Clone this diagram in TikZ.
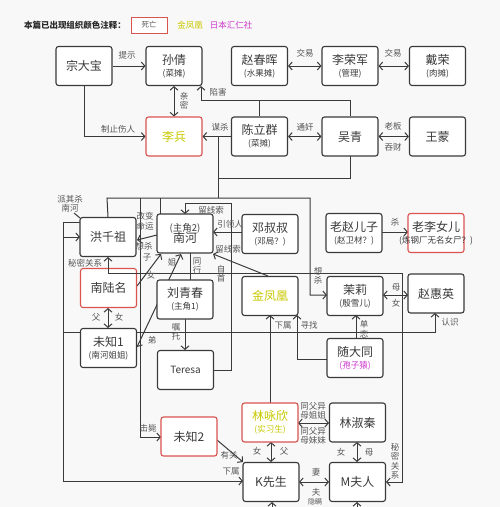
\documentclass[tikz,border=0pt]{standalone}
\usepackage{fontspec}
\setmainfont{Noto Sans CJK SC}
\usetikzlibrary{arrows.meta,calc}
\definecolor{bg}{HTML}{F8F8F8}
\definecolor{ln}{HTML}{3A3A3A}
\definecolor{dead}{HTML}{D9534F}
\definecolor{gold}{HTML}{C8C800}
\definecolor{mag}{HTML}{CC33CC}
\definecolor{lbl}{HTML}{555555}
\newcommand{\subt}[1]{\\[-1pt]{\fontsize{8.5}{9}\selectfont #1}}
\begin{document}
\begin{tikzpicture}[x=1pt,y=-1pt,
 box/.style={draw=ln, fill=white, rounded corners=2.5pt, line width=1.1pt, minimum width=56pt, minimum height=39pt, inner sep=0pt, align=center, font=\fontsize{12}{13}\selectfont, text=ln},
 deadbox/.style={box, draw=dead},
 conn/.style={draw=ln, line width=1pt},
 arr/.style={conn, -{Straight Barb[length=3.5pt,width=8pt]}},
 darr/.style={conn, {Straight Barb[length=3.5pt,width=8pt]}-{Straight Barb[length=3.5pt,width=8pt]}},
 lab/.style={font=\fontsize{8.5}{9.5}\selectfont, text=lbl, inner sep=0.5pt, align=center},
]
\fill[bg] (0,0) rectangle (500,507);
\useasboundingbox (0,0) rectangle (500,507);

% legend
\node[font=\bfseries\fontsize{8.5}{10}\selectfont, text=black!85] (leg) at (75,25) {本篇已出现组织颜色注释：};
\node[draw=dead, fill=white, line width=1pt, minimum width=36pt, minimum height=16pt, inner sep=0pt, font=\fontsize{7.5}{9}\selectfont, text=lbl] (legd) at (149,25) {死亡};
\node[text=gold, font=\fontsize{8.5}{10}\selectfont] (legj) at (190,25) {金凤凰};
\node[text=mag, font=\fontsize{8.5}{10}\selectfont] (legr) at (231,25) {日本汇仁社};

% ---------- lower section connectors (under boxes) ----------
\coordinate (bus1) at (107,198);
\coordinate (bus2) at (310,198);
\draw[conn] (218,136.5) -- (218,198);
\draw[conn] (350,156) -- (350,178) -- (218,178);
\draw[arr] (108,217) -- (bus1) -- (bus2) -- (310,295) -- (327,295);
\draw[arr] (140,198) -- (140,437) -- (161,437);
\draw[conn] (160,198) -- (160,214);
\draw[arr] (214,370) -- (231,370) -- (231,203) -- (185,203) -- (185,214);
\draw[arr] (242,232) -- (213,232);
\draw[arr] (268,276) -- (213,254);
\draw[arr] (137,286) -- (161,254);
\draw[darr] (137,347) -- (181,254);
\draw[conn] (190,253) -- (190,280);
\draw[arr] (185,319) -- (185,350);
\draw[darr] (108,308) -- (108,328);
\draw[darr] (383,295) -- (408,295);
\draw[arr] (382,232) -- (408,232);
\draw[arr] (63,332) -- (435,332) -- (435,313);
\draw[arr] (80,222) -- (63,222) -- (63,481) -- (243,481);
\draw[arr] (63,237) -- (80,237);
\draw[conn] (74,213) -- (80,218);
\draw[arr] (270,403) -- (270,315);
\draw[arr] (327,359) -- (297,359) -- (297,315);
\draw[arr] (356,338) -- (356,315);
\draw[darr] (298,423) -- (329,423);
\draw[darr] (271,442) -- (271,462);
\draw[darr] (357,442) -- (357,462);
\draw[darr] (299,482) -- (329,482);
\draw[arr] (217,440) -- (243,462);
\draw[arr] (318,515) -- (272,515) -- (272,502);
\draw[arr] (318,515) -- (357,515) -- (357,502);
\draw[arr] (157,235) -- (137,240);

% ---------- top section ----------
\node[box] (zdb) at (84,66) {宗大宝};
\node[box] (sq) at (174,66) {孙倩\subt{(菜摊)}};
\node[box] (zch) at (259.5,66) {赵春晖\subt{(水果摊)}};
\node[box] (lrj) at (350,66) {李荣军\subt{(管理)}};
\node[box] (dr) at (437.5,66) {戴荣\subt{(肉摊)}};
\node[deadbox, text=gold] (lb) at (174,136.5) {李兵};
\node[box] (clq) at (259.5,136.5) {陈立群\subt{(菜摊)}};
\node[box] (wq) at (350,136.5) {吴青};
\node[box] (wm) at (437.5,136.5) {王蒙};

\coordinate (xh) at (201,100);
\draw[arr] (zdb) -- (sq);
\draw[arr] (zdb.south) |- (lb.west);
\draw[darr] (sq.south) -- (lb.north);
\draw[conn] (clq.north) -- (clq.north |- xh);
\draw[arr] (wq.north) |- (xh) -- (xh |- sq.south);
\draw[darr] (zch) -- (lrj);
\draw[darr] (lrj) -- (dr);
\draw[arr] (clq) -- (lb);
\draw[darr] (clq) -- (wq);
\draw[darr] (wm) -- (wq);

\node[lab] (l1) at (127,55) {提示};
\node[lab] (l2) at (118,129) {制止伤人};
\node[lab] (l3) at (184,101) {亲\\密};
\node[lab] (l4) at (218,92) {陷害};
\node[lab] (l5) at (305,53) {交易};
\node[lab] (l6) at (393,53) {交易};
\node[lab] (l7) at (220,127) {谋杀};
\node[lab] (l8) at (305,127) {通奸};
\node[lab] (l9) at (393,126) {老板};
\node[lab] (l10) at (393,147) {吞财};

% ---------- lower boxes ----------
\node[box] (hqz) at (108,237) {洪千祖};
\node[box] (nh) at (185,233.5) {{\fontsize{9.5}{10}\selectfont (主角2)}\\[-2pt]南河};
\node[deadbox] (nlm) at (108.5,288) {南陆名};
\node[box] (lqc) at (185,299.5) {刘青春\subt{(主角1)}};
\node[box] (dss) at (270,234) {邓叔叔\subt{(邓局？)}};
\node[box] (lzez) at (354,233) {老赵儿子\subt{(赵卫材？)}};
\node[deadbox] (llne) at (436,233) {老李女儿\\[-1pt]{\fontsize{8.5}{9}\selectfont\makebox[0pt]{(炼钢厂无名女尸？)}}};
\node[box, text=gold] (jfh) at (270,296) {金凤凰};
\node[box] (ml) at (355,296) {茉莉\subt{(殷雪儿)}};
\node[box] (zhy) at (436,293.5) {赵惠英};
\node[box] (wz1) at (108.5,348) {未知1\subt{(南河姐姐)}};
\node[box, font=\fontsize{10}{11}\selectfont] (ter) at (185.5,370) {Teresa};
\node[box] (sdt) at (355,358) {随大同\\[-1pt]{\fontsize{8.5}{9}\selectfont\color{mag}(孢子猿)}};
\node[deadbox] (wz2) at (189,436.5) {未知2};
\node[deadbox, text=gold] (lyx) at (270,422.5) {林咏欣\subt{(实习生)}};
\node[box] (lsq) at (357.5,422.5) {林淑秦};
\node[box] (ks) at (271,482) {K先生};
\node[box] (mfr) at (357.5,482) {M夫人};

% connector drawn over 南陆名
\draw[darr] (108,257) -- (108,273) -- (402,273) -- (402,482) -- (386,482);

% lower labels
\node[lab] (m1) at (70,204) {派其杀\\南河};
\node[lab] (m2) at (85,263) {秘密关系};
\node[lab] (m3) at (145,221) {改变\\命运};
\node[lab] (m4) at (144,246) {想杀};
\node[lab] (m5) at (147,258) {子};
\node[lab] (m6) at (151,275) {女};
\node[lab] (m7) at (172,262) {姐};
\node[lab] (m8) at (152,340) {弟};
\node[lab] (m9) at (197,266) {同\\行};
\node[lab] (m10) at (176,332) {嘱\\托};
\node[lab] (m11) at (96,317) {父};
\node[lab] (m12) at (119,317) {女};
\node[lab] (m13) at (211,210) {留线索};
\node[lab] (m14) at (230,224) {引领人};
\node[lab] (m15) at (228,249) {留线索};
\node[lab] (m16) at (221,274) {自\\首};
\node[lab] (m17) at (318,276) {想\\杀};
\node[lab] (m18) at (396,287) {母};
\node[lab] (m19) at (396,303) {女};
\node[lab] (m20) at (395,222) {杀};
\node[lab] (m21) at (283,325) {下属};
\node[lab] (m22) at (309,325) {寻找};
\node[lab] (m23) at (364,329) {单\\恋};
\node[lab] (m24) at (450,322) {认识};
\node[lab] (m25) at (148,428) {击毙};
\node[lab] (m26) at (313,411) {同父异\\母姐姐};
\node[lab] (m27) at (313,436) {同父异\\母妹妹};
\node[lab] (m28) at (257,451) {女};
\node[lab] (m29) at (284,451) {父};
\node[lab] (m30) at (341,452) {女};
\node[lab] (m31) at (369,452) {母};
\node[lab] (m32) at (316,472) {妻};
\node[lab] (m33) at (316,492) {夫};
\node[lab] (m34) at (229,455) {有关};
\node[lab] (m35) at (231,471) {下属};
\node[lab] (m36) at (395,461) {秘\\密\\关\\系};
\node[lab, font=\fontsize{7}{8}\selectfont] (m37) at (315,501.5) {隐瞒};
\end{tikzpicture}
\end{document}
